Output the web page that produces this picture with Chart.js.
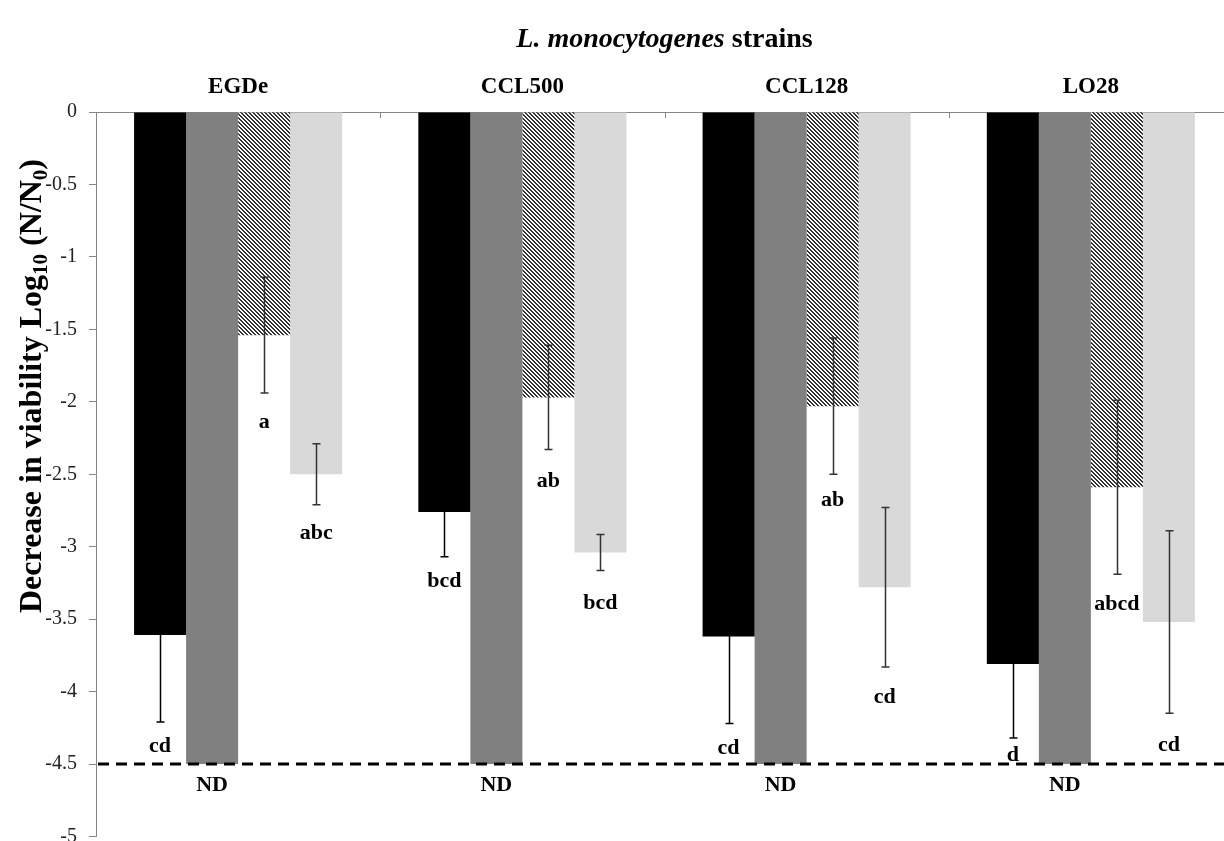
<!DOCTYPE html>
<html><head><meta charset="utf-8">
<script src="https://cdn.jsdelivr.net/npm/chart.js@4.4.1/dist/chart.umd.min.js"></script>
<style>
html,body{margin:0;padding:0;overflow:hidden;background:#fff;width:1224px;height:841px}
#wrap{position:relative;width:1240px;height:841px}
</style></head><body><div id="wrap"><canvas id="c" width="1240" height="841"></canvas></div>
<script>
// ---- data ----
const strains = ['EGDe', 'CCL500', 'CCL128', 'LO28'];
const chartTitleItalic = 'L. monocytogenes';
const chartTitleRest = ' strains';

const seriesBlack   = [-3.61, -2.76, -3.62, -3.81];
const errBlack      = [0.60, 0.31, 0.60, 0.51];
const lettersBlack  = ['cd', 'bcd', 'cd', 'd'];
const letterYBlack  = [-4.38, -3.24, -4.39, -4.44];

const seriesGray    = [-4.5, -4.5, -4.5, -4.5];
const errGray       = [null, null, null, null];
const lettersGray   = ['ND', 'ND', 'ND', 'ND'];
const letterYGray   = [-4.645, -4.645, -4.645, -4.645];

const seriesHatched = [-1.54, -1.97, -2.03, -2.59];
const errHatched    = [0.40, 0.36, 0.47, 0.60];
const lettersHatched= ['a', 'ab', 'ab', 'abcd'];
const letterYHatched= [-2.14, -2.55, -2.68, -3.40];

const seriesLight   = [-2.50, -3.04, -3.28, -3.52];
const errLight      = [0.21, 0.125, 0.55, 0.63];
const lettersLight  = ['abc', 'bcd', 'cd', 'cd'];
const letterYLight  = [-2.91, -3.39, -4.04, -4.37];

const yTicks      = [0, -0.5, -1, -1.5, -2, -2.5, -3, -3.5, -4, -4.5, -5];
const yTickLabels = ['0', '-0.5', '-1', '-1.5', '-2', '-2.5', '-3', '-3.5', '-4', '-4.5', '-5'];
const detectionLimit = -4.5;

// ---- styles ----
const SERIF = '"Liberation Serif", "Times New Roman", serif';
function makeHatch() {
  const c = document.createElement('canvas');
  c.width = 4; c.height = 4;
  const x = c.getContext('2d');
  x.fillStyle = '#ffffff'; x.fillRect(0, 0, 4, 4);
  x.fillStyle = '#333333';
  for (let i = 0; i < 4; i++) { x.fillRect(i, i, 1, 1); x.fillRect((i + 1) % 4, i, 1, 1); }
  return document.getElementById('c').getContext('2d').createPattern(c, 'repeat');
}
const hatch = makeHatch();

const errs = [errBlack, errGray, errHatched, errLight];
const errColors = ['#000000', '#333333', '#333333', '#333333'];
const letters = [lettersBlack, lettersGray, lettersHatched, lettersLight];
const letterYs = [letterYBlack, letterYGray, letterYHatched, letterYLight];

const overlay = {
  id: 'overlay',
  afterDatasetsDraw(chart) {
    const ctx = chart.ctx, y = chart.scales.y, x = chart.scales.x, a = chart.chartArea;
    ctx.save();
    // error bars
    ctx.lineWidth = 1.5;
    chart.data.datasets.forEach((ds, di) => {
      const meta = chart.getDatasetMeta(di);
      ctx.strokeStyle = errColors[di];
      meta.data.forEach((bar, i) => {
        const e = errs[di][i];
        if (e == null) return;
        const v = ds.data[i];
        const y1 = y.getPixelForValue(v + e), y2 = y.getPixelForValue(v - e);
        const cx = Math.round(bar.x) + 0.5;
        ctx.beginPath();
        ctx.moveTo(cx, y1); ctx.lineTo(cx, y2);
        ctx.moveTo(cx - 4, y1); ctx.lineTo(cx + 4, y1);
        ctx.moveTo(cx - 4, y2); ctx.lineTo(cx + 4, y2);
        ctx.stroke();
      });
    });
    // detection limit
    const yl = y.getPixelForValue(detectionLimit);
    ctx.strokeStyle = '#000'; ctx.lineWidth = 3; ctx.setLineDash([11, 7]);
    ctx.beginPath(); ctx.moveTo(a.left + 2, yl); ctx.lineTo(chart.width, yl); ctx.stroke();
    ctx.setLineDash([]);
    // letters
    ctx.fillStyle = '#000'; ctx.font = 'bold 22px ' + SERIF;
    ctx.textAlign = 'center'; ctx.textBaseline = 'middle';
    chart.data.datasets.forEach((ds, di) => {
      const meta = chart.getDatasetMeta(di);
      meta.data.forEach((bar, i) => {
        ctx.fillText(letters[di][i], bar.x, y.getPixelForValue(letterYs[di][i]));
      });
    });
    // inward category tick marks on top axis
    ctx.strokeStyle = '#868686'; ctx.lineWidth = 1;
    const cw = (x.right - x.left) / strains.length;
    for (let k = 1; k <= strains.length; k++) {
      const px = Math.round(x.left + k * cw) + 0.5;
      ctx.beginPath(); ctx.moveTo(px, a.top); ctx.lineTo(px, a.top + 6); ctx.stroke();
    }
    ctx.restore();
  },
  afterDraw(chart) {
    const ctx = chart.ctx, a = chart.chartArea;
    ctx.save();
    ctx.fillStyle = '#000';
    // chart title (mixed italic)
    ctx.textBaseline = 'alphabetic';
    const f1 = 'italic bold 28px ' + SERIF, f2 = 'bold 28px ' + SERIF;
    ctx.font = f1; const w1 = ctx.measureText(chartTitleItalic).width;
    ctx.font = f2; const w2 = ctx.measureText(chartTitleRest).width;
    let sx = (a.left + a.right) / 2 - (w1 + w2) / 2;
    ctx.font = f1; ctx.textAlign = 'left'; ctx.fillText(chartTitleItalic, sx, 47);
    ctx.font = f2; ctx.fillText(chartTitleRest, sx + w1, 47);
    // y axis title with subscripts
    const parts = [
      ['Decrease in viability Log', 32, 0],
      ['10', 21, 6],
      [' (N/N', 32, 0],
      ['0', 21, 6],
      [')', 32, 0]
    ];
    let total = 0;
    parts.forEach(p => { ctx.font = 'bold ' + p[1] + 'px ' + SERIF; p.push(ctx.measureText(p[0]).width); total += p[3]; });
    ctx.translate(41, 386);
    ctx.rotate(-Math.PI / 2);
    let px = -total / 2;
    parts.forEach(p => {
      ctx.font = 'bold ' + p[1] + 'px ' + SERIF;
      ctx.fillText(p[0], px, p[2]);
      px += p[3];
    });
    ctx.restore();
  }
};

new Chart(document.getElementById('c'), {
  type: 'bar',
  data: {
    labels: strains,
    datasets: [
      { data: seriesBlack, backgroundColor: '#000000' },
      { data: seriesGray, backgroundColor: '#808080' },
      { data: seriesHatched, backgroundColor: hatch },
      { data: seriesLight, backgroundColor: '#d9d9d9' }
    ]
  },
  options: {
    responsive: false,
    devicePixelRatio: 1,
    animation: false,
    categoryPercentage: 0.732,
    barPercentage: 1.0,
    layout: { padding: { left: 0, right: 7, top: 0, bottom: 4.5 } },
    plugins: { legend: { display: false }, tooltip: { enabled: false }, title: { display: false } },
    scales: {
      x: {
        position: 'top',
        grid: { display: false },
        border: { display: true, color: '#868686', width: 1 },
        ticks: { color: '#000', font: { family: SERIF, size: 23, weight: 'bold' }, padding: 3, maxRotation: 0 },
        afterFit(s) { s.height = 112; s.paddingLeft = 0; s.paddingRight = 0; }
      },
      y: {
        min: -5, max: 0,
        grid: { drawOnChartArea: false, drawTicks: true, tickLength: 7, color: '#868686' },
        border: { display: true, color: '#868686', width: 1 },
        ticks: {
          color: '#222', font: { family: SERIF, size: 20 }, padding: 12,
          callback: (v) => { const k = yTicks.findIndex(t => Math.abs(t - v) < 1e-6); return k >= 0 ? yTickLabels[k] : ''; }
        },
        afterBuildTicks(s) { s.ticks = yTicks.map(v => ({ value: v })); },
        afterFit(s) { s.width = 96; s.paddingTop = 0; s.paddingBottom = 0; }
      }
    }
  },
  plugins: [overlay]
});
</script></body></html>
